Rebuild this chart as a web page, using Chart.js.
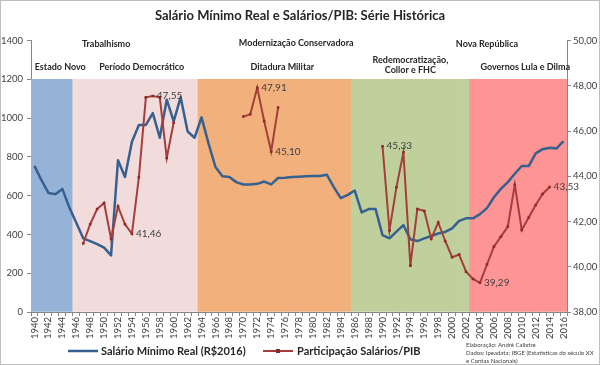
<!DOCTYPE html>
<html>
<head>
<meta charset="utf-8">
<script src="https://cdn.jsdelivr.net/npm/chart.js@4.4.0/dist/chart.umd.min.js"></script>
<style>
html, body { margin: 0; padding: 0; background: #fff; }
</style>
</head>
<body>
<canvas id="chart" width="600" height="365"></canvas>
<script>
const years = [
    '1940','1941','1942','1943','1944','1945','1946','1947','1948','1949',
    '1950','1951','1952','1953','1954','1955','1956','1957','1958','1959',
    '1960','1961','1962','1963','1964','1965','1966','1967','1968','1969',
    '1970','1971','1972','1973','1974','1975','1976','1977','1978','1979',
    '1980','1981','1982','1983','1984','1985','1986','1987','1988','1989',
    '1990','1991','1992','1993','1994','1995','1996','1997','1998','1999',
    '2000','2001','2002','2003','2004','2005','2006','2007','2008','2009',
    '2010','2011','2012','2013','2014','2015','2016'
];

// Salário Mínimo Real (R$2016) - eixo esquerdo
const salarioMinimo = [
    754, 680, 614, 608, 635, 540, 460, 380, 366, 350,
    332, 292, 783, 696, 878, 965, 965, 1026, 899, 1095,
    983, 1108, 931, 899, 1004, 870, 748, 700, 696, 670,
    658, 658, 661, 673, 658, 691, 693, 696, 698, 700,
    702, 702, 708, 644, 587, 604, 627, 514, 531, 531,
    396, 380, 415, 448, 375, 366, 380, 392, 405, 413,
    431, 470, 483, 483, 505, 536, 592, 635, 670, 713,
    753, 753, 818, 840, 847, 844, 882
];

// Participação Salários/PIB (%) - eixo direito
const salariosPib = [
    null, null, null, null, null, null, null, 41.03, 41.88, 42.55,
    42.82, 41.24, 42.67, 41.88, 41.46, 43.96, 47.49, 47.55, 47.49, 44.81,
    46.38, null, null, null, null, null, null, null, null, null,
    46.64, 46.74, 47.91, 46.44, 45.10, 47.04, null, null, null, null,
    null, null, null, null, null, null, null, null, null, null,
    45.33, 41.61, 43.52, 45.05, 40.05, 42.55, 42.47, 41.24, 41.96, 41.14,
    40.42, 40.54, 39.78, 39.46, 39.29, 40.10, 40.89, 41.33, 41.78, 43.63,
    41.63, 42.18, 42.73, 43.22, 43.53, null, null
];

// anos com rótulo de dado
const labelYears = ['1954', '1957', '1972', '1974', '1990', '2004', '2014'];

// períodos (primeiro ano de cada faixa) e altura das faixas
const eraStart = ['1940', '1946', '1964', '1986', '2003'];
const eraColors = ['#95B3D7', '#F2DCDB', '#F2B07C', '#C0D09C', '#FF9494'];
const bandTop = 1200;

const leftTicks = [0, 200, 400, 600, 800, 1000, 1200, 1400];
const rightTicks = [38, 40, 42, 44, 46, 48, 50];

const bandValues = years.map(() => bandTop);
const bandColors = years.map(y => {
    let c = eraColors[0];
    eraStart.forEach((s, i) => { if (+y >= +s) c = eraColors[i]; });
    return c;
});

const eraText = {
    id: 'eraText',
    afterDatasetsDraw(chart) {
        const { ctx, scales: { x, y } } = chart;
        // [texto, posição no eixo x (índice), valor no eixo y]
        const items = [
            ['Trabalhismo', 10.3, 1380],
            ['Estado Novo', 3.7, 1262],
            ['Período Democrático', 15.4, 1262],
            ['Modernização Conservadora', 37.6, 1388],
            ['Ditadura Militar', 35.6, 1262],
            ['Redemocratização,', 54.0, 1298],
            ['Collor e FHC', 54.0, 1246],
            ['Nova República', 65.0, 1380],
            ['Governos Lula e Dilma', 70.5, 1262]
        ];
        ctx.save();
        ctx.font = 'bold 9px Lato';
        ctx.fillStyle = '#262626';
        ctx.textAlign = 'center';
        ctx.textBaseline = 'middle';
        items.forEach(([t, i, v]) => ctx.fillText(t, x.getPixelForValue(i), y.getPixelForValue(v)));
        ctx.restore();
    }
};

const pointLabels = {
    id: 'pointLabels',
    afterDatasetsDraw(chart) {
        const { ctx } = chart;
        const meta = chart.getDatasetMeta(2);
        ctx.save();
        ctx.font = '10px Lato';
        ctx.fillStyle = '#404040';
        ctx.textAlign = 'left';
        ctx.textBaseline = 'middle';
        labelYears.forEach(yr => {
            const i = years.indexOf(yr);
            const p = meta.data[i];
            ctx.fillText(salariosPib[i].toFixed(2).replace('.', ','), p.x + 4, p.y);
        });
        ctx.restore();
    }
};

const footer = {
    id: 'footer',
    afterDraw(chart) {
        const { ctx } = chart;
        ctx.save();
        // legenda
        ctx.lineWidth = 2.5;
        ctx.strokeStyle = '#36608F';
        ctx.beginPath(); ctx.moveTo(68, 351); ctx.lineTo(98, 351); ctx.stroke();
        ctx.lineWidth = 2;
        ctx.strokeStyle = '#A63D3D';
        ctx.beginPath(); ctx.moveTo(263, 351); ctx.lineTo(293, 351); ctx.stroke();
        ctx.fillStyle = '#8B2A2A';
        ctx.fillRect(276, 349, 4, 4);
        ctx.font = 'bold 11px Lato';
        ctx.fillStyle = '#262626';
        ctx.textBaseline = 'middle';
        ctx.fillText('Salário Mínimo Real (R$2016)', 101, 351);
        ctx.fillText('Participação Salários/PIB', 297, 351);
        // fonte
        ctx.font = '6px Lato';
        ctx.fillStyle = '#404040';
        ctx.fillText('Elaboração: André Calixtre', 466, 345);
        ctx.fillText('Dados: Ipeadata; IBGE (Estatísticas do século XX', 466, 353);
        ctx.fillText('e Contas Nacionais)', 466, 361);
        // moldura
        ctx.strokeStyle = '#BFBFBF';
        ctx.lineWidth = 1;
        ctx.strokeRect(0.5, 0.5, 599, 364);
        ctx.restore();
    }
};

const ctx = document.getElementById('chart').getContext('2d');

const myChart = new Chart(ctx, {
    data: {
        labels: years,
        datasets: [
            {
                type: 'bar',
                data: bandValues,
                backgroundColor: bandColors,
                barPercentage: 1,
                categoryPercentage: 1,
                borderWidth: 0,
                yAxisID: 'y',
                order: 10
            },
            {
                type: 'line',
                label: 'Salário Mínimo Real (R$2016)',
                data: salarioMinimo,
                borderColor: '#36608F',
                borderWidth: 2.5,
                pointRadius: 0,
                tension: 0,
                borderJoinStyle: 'round',
                yAxisID: 'y',
                order: 1
            },
            {
                type: 'line',
                label: 'Participação Salários/PIB',
                data: salariosPib,
                borderColor: '#A63D3D',
                borderWidth: 2,
                pointStyle: 'rect',
                pointRadius: 1.8,
                pointBackgroundColor: '#8B2A2A',
                pointBorderColor: '#8B2A2A',
                pointBorderWidth: 0,
                spanGaps: false,
                tension: 0,
                yAxisID: 'y1',
                order: 0
            }
        ]
    },
    options: {
        responsive: false,
        animation: false,
        devicePixelRatio: 1,
        layout: { padding: { left: 0, right: 0, top: 0, bottom: 23 } },
        scales: {
            x: {
                type: 'category',
                offset: true,
                afterFit: s => { s.height = 30; },
                grid: { drawOnChartArea: false, tickLength: 4, color: '#868686' },
                border: { color: '#868686' },
                ticks: {
                    autoSkip: false,
                    minRotation: 90,
                    maxRotation: 90,
                    padding: 1,
                    color: '#404040',
                    font: { family: 'Lato', size: 9.5 },
                    callback: (v, i) => i % 2 === 0 ? years[i] : ''
                }
            },
            y: {
                position: 'left',
                min: 0,
                max: 1400,
                afterFit: s => { s.width = 31; },
                afterBuildTicks: s => { s.ticks = leftTicks.map(v => ({ value: v })); },
                grid: { drawOnChartArea: false, tickLength: 4, color: '#868686' },
                border: { color: '#868686' },
                ticks: {
                    padding: 4,
                    color: '#404040',
                    font: { family: 'Lato', size: 9.5 },
                    callback: v => String(v)
                }
            },
            y1: {
                position: 'right',
                min: 38,
                max: 50,
                afterFit: s => { s.width = 33; },
                afterBuildTicks: s => { s.ticks = rightTicks.map(v => ({ value: v })); },
                grid: { drawOnChartArea: false, tickLength: 4, color: '#868686' },
                border: { color: '#868686' },
                ticks: {
                    padding: 2,
                    color: '#404040',
                    font: { family: 'Lato', size: 9.5 },
                    callback: v => v.toFixed(2).replace('.', ',')
                }
            }
        },
        plugins: {
            legend: { display: false },
            tooltip: { enabled: false },
            title: {
                display: true,
                text: 'Salário Mínimo Real e Salários/PIB: Série Histórica',
                color: '#262626',
                font: { family: 'Lato', size: 13, weight: 'bold' },
                padding: { top: 8, bottom: 17 }
            }
        }
    },
    plugins: [eraText, pointLabels, footer]
});
</script>
</body>
</html>
